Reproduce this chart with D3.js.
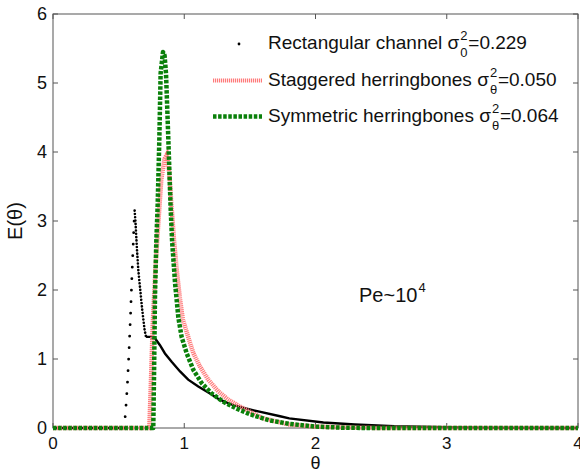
<!DOCTYPE html>
<html>
<head>
<meta charset="utf-8">
<script src="https://cdn.jsdelivr.net/npm/d3@7"></script>
<style>
  body { margin: 0; background: #fff; }
  text { font-family: "Liberation Sans", Arial, sans-serif; fill: #111; }
</style>
</head>
<body>
<div id="chart"></div>
<script>
// Rectangular channel (black dots)
var rectTheta = [0, 0.1, 0.2, 0.3, 0.4, 0.5, 0.541,
  0.545, 0.554, 0.566, 0.579, 0.592, 0.602, 0.612, 0.618, 0.622,
  0.628, 0.64, 0.65, 0.665, 0.68, 0.698, 0.709,
  0.739, 0.777, 0.815, 0.853, 0.904, 0.968, 1.03, 1.107, 1.196, 1.27,
  1.374, 1.476, 1.564, 1.73, 1.8, 2.06, 2.3, 2.6, 3.0, 3.3, 4.0];
var rectE = [0, 0, 0, 0, 0, 0, 0,
  0.05, 0.26, 0.60, 1.11, 1.70, 2.24, 2.70, 3.0, 3.15,
  3.0, 2.58, 2.29, 2.0, 1.71, 1.42, 1.32,
  1.32, 1.30, 1.20, 1.08, 0.96, 0.82, 0.70, 0.60, 0.50, 0.41,
  0.33, 0.28, 0.24, 0.17, 0.14, 0.08, 0.05, 0.025, 0.01, 0.005, 0];

// Staggered herringbones (pink)
var stagTheta = [0, 0.734, 0.745, 0.76, 0.78, 0.80, 0.825, 0.85, 0.867,
  0.875, 0.886, 0.9, 0.922, 0.945, 0.968, 0.99, 1.03, 1.07, 1.12, 1.183,
  1.26, 1.336, 1.425, 1.526, 1.6, 1.8, 2.0, 2.3, 2.5, 4.0];
var stagE = [0, 0, 0.6, 1.5, 2.3, 2.9, 3.6, 3.9, 3.96,
  3.85, 3.7, 3.3, 2.72, 2.25, 1.86, 1.57, 1.32, 1.08, 0.89, 0.70,
  0.53, 0.41, 0.31, 0.21, 0.14, 0.05, 0.02, 0.005, 0, 0];

// Symmetric herringbones (green)
var symTheta = [0, 0.764, 0.77, 0.777, 0.787, 0.797, 0.81, 0.82, 0.838,
  0.85, 0.861, 0.879, 0.896, 0.907, 0.93, 0.955, 0.98, 1.019, 1.07, 1.133,
  1.209, 1.298, 1.4, 1.5, 1.564, 1.65, 1.8, 2.0, 2.2, 2.4, 4.0];
var symE = [0, 0, 0.8, 1.9, 2.7, 3.2, 4.17, 5.14, 5.45,
  5.4, 5.14, 4.17, 3.2, 2.72, 2.1, 1.6, 1.32, 1.08, 0.84, 0.65,
  0.50, 0.38, 0.28, 0.20, 0.16, 0.11, 0.06, 0.02, 0.005, 0, 0];

var xTicks = [0, 1, 2, 3, 4];
var yTicks = [0, 1, 2, 3, 4, 5, 6];

var legendNames = ["Rectangular channel", "Staggered herringbones", "Symmetric herringbones"];
var legendSubs = ["0", "\u03b8", "\u03b8"];
var legendVals = ["0.229", "0.050", "0.064"];

var width = 580;
var height = 473;
var margin = {left: 53, right: 2, top: 14, bottom: 45};

var pinkColor = "#ff7a7a";
var greenColor = "#0a800a";

var svg = d3.select("#chart").append("svg")
  .attr("width", width)
  .attr("height", height);

var xScale = d3.scaleLinear().domain([0, 4]).range([margin.left, width - margin.right]);
var yScale = d3.scaleLinear().domain([0, 6]).range([height - margin.bottom, margin.top]);

var line = d3.line()
  .x(d => xScale(d[0]))
  .y(d => yScale(d[1]));

var x0 = xScale(0), x1 = xScale(4), y0 = yScale(0), y1 = yScale(6);

/* ticks (inward, all four sides) */
var axisColor = "#555";
var tk = svg.append("g");
xTicks.forEach(function(t) {
  tk.append("line").attr("x1", xScale(t)).attr("x2", xScale(t)).attr("y1", y0).attr("y2", y0 - 5).attr("stroke", axisColor);
  tk.append("line").attr("x1", xScale(t)).attr("x2", xScale(t)).attr("y1", y1).attr("y2", y1 + 5).attr("stroke", axisColor);
  tk.append("text").attr("x", xScale(t)).attr("y", y0 + 21)
    .attr("text-anchor", "middle").style("font-size", "17px").text(t);
});
yTicks.forEach(function(t) {
  tk.append("line").attr("x1", x0).attr("x2", x0 + 5).attr("y1", yScale(t)).attr("y2", yScale(t)).attr("stroke", axisColor);
  tk.append("line").attr("x1", x1).attr("x2", x1 - 5).attr("y1", yScale(t)).attr("y2", yScale(t)).attr("stroke", axisColor);
  tk.append("text").attr("x", x0 - 6).attr("y", yScale(t) + 6)
    .attr("text-anchor", "end").style("font-size", "18px").text(t);
});

/* box */
svg.append("rect")
  .attr("x", x0).attr("y", y1)
  .attr("width", x1 - x0).attr("height", y0 - y1)
  .attr("fill", "none").attr("stroke", axisColor).attr("stroke-width", 1);

/* axis titles */
svg.append("text").attr("x", xScale(2)).attr("y", 469)
  .attr("text-anchor", "middle").style("font-size", "18px").text("\u03b8");
svg.append("text")
  .attr("transform", "translate(22," + ((y0 + y1) / 2) + ") rotate(-90)")
  .attr("text-anchor", "middle").style("font-size", "20px").text("E(\u03b8)");

/* series */
var rectPts = rectTheta.map((t, i) => [t, rectE[i]]);
var stagPts = stagTheta.map((t, i) => [t, stagE[i]]);
var symPts = symTheta.map((t, i) => [t, symE[i]]);

var peakIdx = d3.maxIndex(rectPts, d => d[1]);
var riseStart = 0.541, fallEnd = 0.709;
var lines = svg.append("g").attr("class", "lines");

// black: solid where sampling is dense, dotted on the steep rise/fall
lines.append("path").attr("d", line(rectPts.filter(d => d[0] <= riseStart)))
  .attr("fill", "none").attr("stroke", "#000").attr("stroke-width", 2.4);
lines.append("path").attr("d", line(rectPts.filter((d, i) => d[0] >= riseStart && i <= peakIdx)))
  .attr("fill", "none").attr("stroke", "#000").attr("stroke-width", 2.8)
  .attr("stroke-linecap", "round").attr("stroke-dasharray", "0.01,11.5");
lines.append("path").attr("d", line(rectPts.filter((d, i) => i >= peakIdx && d[0] <= fallEnd)))
  .attr("fill", "none").attr("stroke", "#000").attr("stroke-width", 2.6)
  .attr("stroke-linecap", "round").attr("stroke-dasharray", "0.01,3.3");
lines.append("path").attr("d", line(rectPts.filter(d => d[0] >= fallEnd)))
  .attr("fill", "none").attr("stroke", "#000").attr("stroke-width", 2.4);

lines.append("path").attr("d", line(stagPts))
  .attr("fill", "none").attr("stroke", pinkColor).attr("stroke-width", 4.5)
  .attr("stroke-dasharray", "1.2,0.8");

lines.append("path").attr("d", line(symPts))
  .attr("fill", "none").attr("stroke", greenColor).attr("stroke-width", 4.5)
  .attr("stroke-linejoin", "round")
  .attr("stroke-dasharray", "3.5,1.6");

/* legend */
var legendX = 268, legendY = [49, 86, 122];
var legend = svg.append("g").attr("class", "legend");
legend.append("circle").attr("cx", 239).attr("cy", legendY[0] - 5).attr("r", 1.4).attr("fill", "#000");
legend.append("line").attr("x1", 213).attr("x2", 262).attr("y1", legendY[1] - 5.5).attr("y2", legendY[1] - 5.5)
  .attr("stroke", pinkColor).attr("stroke-width", 4).attr("stroke-dasharray", "1.2,0.8");
legend.append("line").attr("x1", 213).attr("x2", 262).attr("y1", legendY[2] - 5.5).attr("y2", legendY[2] - 5.5)
  .attr("stroke", greenColor).attr("stroke-width", 4.5).attr("stroke-dasharray", "3.5,1.6");

legendNames.forEach(function(name, i) {
  var y = legendY[i];
  var t = legend.append("text").attr("x", legendX).attr("y", y)
    .style("font-size", "19px").text(name + " \u03c3");
  var w = t.node().getComputedTextLength();
  legend.append("text").attr("x", legendX + w + 1).attr("y", y - 9)
    .style("font-size", "13px").text("2");
  legend.append("text").attr("x", legendX + w + 1).attr("y", y + 8)
    .style("font-size", "13px").text(legendSubs[i]);
  legend.append("text").attr("x", legendX + w + 9).attr("y", y)
    .style("font-size", "19px").text("=" + legendVals[i]);
});

/* Pe annotation */
var pe = svg.append("text").attr("x", 359).attr("y", 302).style("font-size", "20px").text("Pe~10");
var pw = pe.node().getComputedTextLength();
svg.append("text").attr("x", 359 + pw + 1).attr("y", 292).style("font-size", "13px").text("4");
</script>
</body>
</html>
